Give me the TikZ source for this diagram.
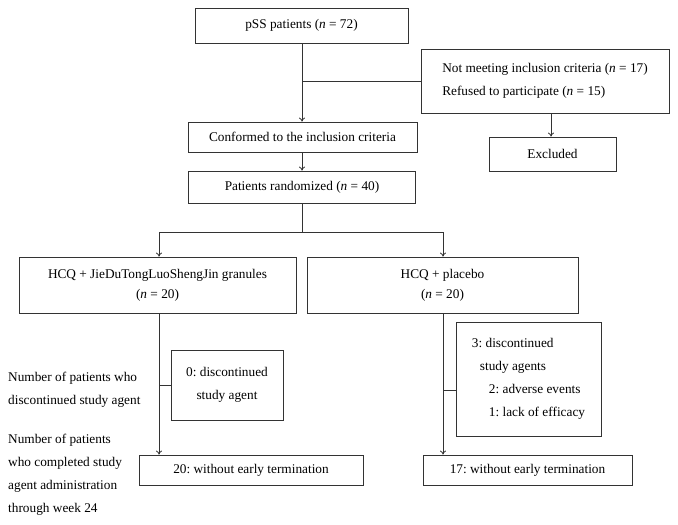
\documentclass[tikz,border=0pt]{standalone}
\usepackage{fontspec}
\setmainfont{Liberation Serif}
\usetikzlibrary{arrows.meta,positioning}
\newcommand{\chartfont}{\fontsize{13.3}{23}\selectfont\frenchspacing}
\tikzset{
  box/.style={draw=black!80,line width=0.8pt,rectangle,inner sep=0pt,align=center,
    font=\chartfont},
  note/.style={align=left,inner sep=0pt,font=\chartfont},
  flow/.style={draw=black!80,line width=0.8pt},
  feed/.style={flow,-{To[length=4pt,width=6pt]}}
}
\begin{document}
\begin{tikzpicture}[x=1pt,y=-1pt]
  \useasboundingbox (0,0) rectangle (678,525);
  % screening
  \node[box,minimum width=213pt,minimum height=35pt] (pss) at (301.5,25.5) {pSS patients (\textit{n} = 72)};
  \node[box,align=left,minimum width=248pt,minimum height=64pt] (crit) at (545,81)
    {Not meeting inclusion criteria (\textit{n} = 17)\\Refused to participate (\textit{n} = 15)};
  \node[box,minimum width=127pt,minimum height=34pt] (excl) at (552.5,154) {Excluded};
  \node[box,minimum width=229pt,minimum height=30pt] (conf) at (302.5,137) {Conformed to the inclusion criteria};
  \node[box,minimum width=227pt,minimum height=32pt] (rand) at (302,187) {Patients randomized (\textit{n} = 40)};
  % arms
  \node[box,minimum width=277pt,minimum height=56pt,font=\fontsize{13.3}{20}\selectfont] (armA) at (157.5,285)
    {HCQ + JieDuTongLuoShengJin granules\\(\textit{n} = 20)};
  \node[box,minimum width=271pt,minimum height=56pt,font=\fontsize{13.3}{20}\selectfont] (armB) at (442.5,285)
    {HCQ + placebo\\(\textit{n} = 20)};
  \node[box,minimum width=112pt,minimum height=70pt] (dropA) at (227,385) {0: discontinued\\study agent};
  \node[box,align=left,minimum width=145pt,minimum height=114pt] (dropB) at (528.5,379)
    {3: discontinued\\\hspace*{8pt}study agents\\\hspace*{17pt}2: adverse events\\\hspace*{17pt}1: lack of efficacy};
  \node[box,minimum width=224pt,minimum height=30pt] (doneA) at (251,470) {20: without early termination};
  \node[box,minimum width=209pt,minimum height=30pt] (doneB) at (527.5,470) {17: without early termination};
  % row labels
  \node[note,anchor=north west] (rowdrop) at (8,372) {Number of patients who\\discontinued study agent};
  \node[note,anchor=north west] (rowdone) at (8,434) {Number of patients\\who completed study\\agent administration\\through week 24};
  % connectors
  \coordinate (split) at (302,81);
  \coordinate (forkA) at (159,232);
  \coordinate (forkB) at (443,232);
  \draw[feed] (pss.south -| split) -- (conf.north -| split);
  \draw[flow] (split) -- (crit.west);
  \draw[feed] (crit.south -| 551,0) -- (excl.north -| 551,0);
  \draw[feed] (conf.south -| split) -- (rand.north -| split);
  \draw[flow] (rand.south -| split) -- (split |- forkA) -- (forkA) (split |- forkB) -- (forkB);
  \draw[feed] (forkA) -- (armA.north -| forkA);
  \draw[feed] (forkB) -- (armB.north -| forkB);
  \draw[feed] (armA.south -| forkA) -- (doneA.north -| forkA);
  \draw[feed] (armB.south -| forkB) -- (doneB.north -| forkB);
  \draw[flow] (dropA.west) -- (dropA.west -| forkA);
  \draw[flow] ([yshift=-11pt]dropB.west) -- ([yshift=-11pt]dropB.west -| forkB);
\end{tikzpicture}
\end{document}
